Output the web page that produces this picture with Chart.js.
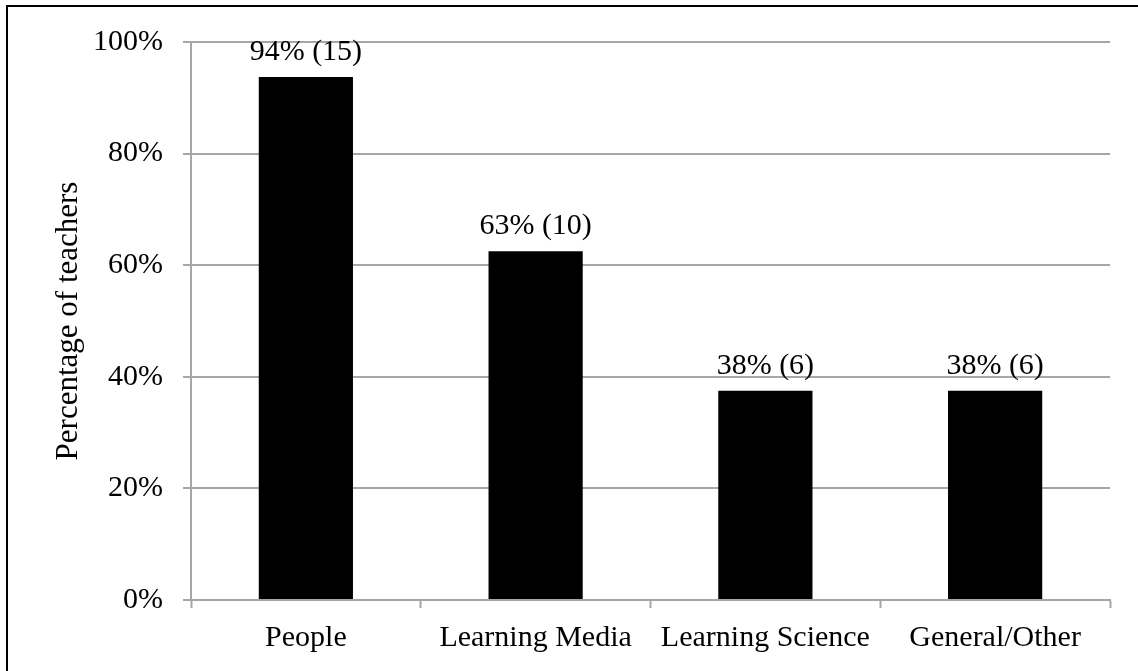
<!DOCTYPE html>
<html>
<head>
<meta charset="utf-8">
<script src="https://cdn.jsdelivr.net/npm/chart.js@4/dist/chart.umd.min.js"></script>
<style>
    html, body { margin: 0; padding: 0; background: #fff; }
    #wrap { position: relative; width: 1138px; height: 671px; }
</style>
</head>
<body>
<div id="wrap"><canvas id="TeacherChart" width="1138" height="671"></canvas></div>
<script>
// data (16 teachers)
const categories = ['People', 'Learning Media', 'Learning Science', 'General/Other'];
const percentages = [93.75, 62.5, 37.5, 37.5];
const counts = [15, 10, 6, 6];
const valueLabels = ['94% (15)', '63% (10)', '38% (6)', '38% (6)'];

const fontFamily = '"Liberation Serif", "Times New Roman", serif';
const gridColor = '#a6a6a6';

// labels above each bar
const barLabels = {
    id: 'barLabels',
    afterDatasetsDraw(chart) {
        const ctx = chart.ctx;
        const meta = chart.getDatasetMeta(0);
        ctx.save();
        ctx.font = '30px ' + fontFamily;
        ctx.fillStyle = '#000';
        ctx.textAlign = 'center';
        ctx.textBaseline = 'alphabetic';
        meta.data.forEach((bar, i) => {
            ctx.fillText(valueLabels[i], bar.x, bar.y - 17);
        });
        ctx.restore();
    }
};

// black frame round the figure (top and left edges are visible)
const frame = {
    id: 'frame',
    afterDraw(chart) {
        const ctx = chart.ctx;
        ctx.save();
        ctx.strokeStyle = '#000';
        ctx.lineWidth = 2;
        ctx.beginPath();
        ctx.moveTo(7, chart.height + 5);
        ctx.lineTo(7, 6);
        ctx.lineTo(chart.width + 5, 6);
        ctx.stroke();
        ctx.restore();
    }
};

const ctx = document.getElementById('TeacherChart').getContext('2d');

new Chart(ctx, {
    type: 'bar',
    data: {
        labels: categories,
        datasets: [{
            label: 'Percentage of teachers',
            data: percentages,
            backgroundColor: '#000',
            borderWidth: 0,
            categoryPercentage: 1,
            barPercentage: 0.41
        }]
    },
    options: {
        responsive: false,
        animation: false,
        layout: { padding: { left: 0, top: 42, right: 28, bottom: 0 } },
        plugins: {
            legend: { display: false },
            tooltip: { enabled: false }
        },
        scales: {
            x: {
                grid: {
                    offset: true,
                    drawOnChartArea: false,
                    drawTicks: true,
                    tickLength: 8,
                    tickWidth: 2,
                    color: gridColor
                },
                border: { color: gridColor, width: 2 },
                ticks: {
                    color: '#000',
                    padding: 12,
                    font: { family: fontFamily, size: 30 }
                },
                afterFit: (scale) => { scale.height = 71; }
            },
            y: {
                min: 0,
                max: 100,
                ticks: {
                    stepSize: 20,
                    color: '#000',
                    padding: 20,
                    font: { family: fontFamily, size: 30 },
                    callback: (v) => v + '%'
                },
                grid: {
                    color: gridColor,
                    lineWidth: 2,
                    tickLength: 8
                },
                border: { color: gridColor, width: 2 },
                title: {
                    display: true,
                    text: 'Percentage of teachers',
                    color: '#000',
                    font: { family: fontFamily, size: 31 },
                    padding: { top: 50, bottom: 0 }
                },
                afterFit: (scale) => { scale.width = 191; }
            }
        }
    },
    plugins: [barLabels, frame]
});
</script>
</body>
</html>
